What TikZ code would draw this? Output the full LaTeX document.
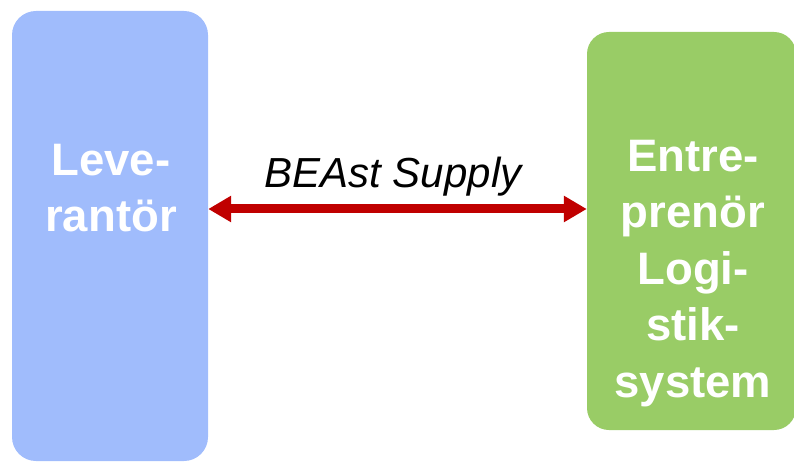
\documentclass[tikz,border=0pt]{standalone}
\usepackage{fontspec}
\setmainfont{Liberation Sans}
\usetikzlibrary{arrows.meta}
\definecolor{levblue}{RGB}{160,188,252}
\definecolor{entgreen}{RGB}{153,204,102}
\definecolor{linkred}{RGB}{192,0,0}
\tikzset{
	box/.style={rounded corners=24pt, inner sep=0pt, draw=none},
	boxtext/.style={white, font=\fontsize{45.5}{56.5}\selectfont\bfseries, align=center, inner sep=0pt},
	link/.style={draw=linkred, line width=9pt, {Triangle[length=23pt,width=25pt]}-{Triangle[length=23pt,width=25pt]}},
}
\begin{document}
\begin{tikzpicture}[x=1pt,y=-1pt]
	\useasboundingbox (0,0) rectangle (794,462);
	\node[box, fill=levblue, minimum width=196pt, minimum height=450pt] (lev) at (110,236) {};
	\node[box, fill=entgreen, minimum width=209pt, minimum height=398pt, rounded corners=22pt] (ent) at (691.5,231) {};
	\node[boxtext, anchor=base] (levtext) at (111,232) {Leve-\\rantör};
	\node[boxtext, anchor=base] (enttext) at (693,397) {Entre-\\prenör\\Logi-\\stik-\\system};
	\coordinate (linkL) at (lev.east |- 0,209);
	\coordinate (linkR) at (ent.west |- 0,209);
	\draw[link] (linkL) -- (linkR);
	\node[anchor=base, inner sep=0pt, font=\fontsize{42}{50}\selectfont\itshape] (linklabel) at (393,188) {BEAst Supply};
\end{tikzpicture}
\end{document}
